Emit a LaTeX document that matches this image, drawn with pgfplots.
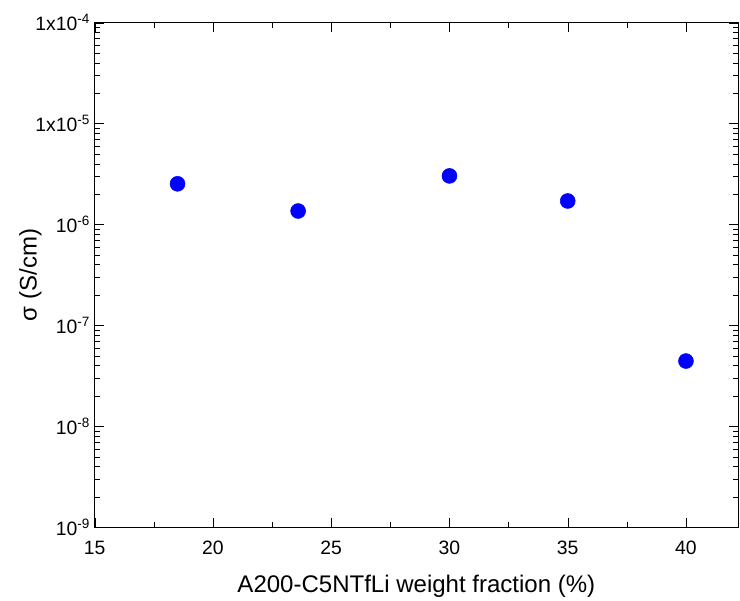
\documentclass[border=0pt]{standalone}
\usepackage{fontspec}
\setmainfont{Liberation Sans}
\usepackage{pgfplots}
\pgfplotsset{compat=1.18}
\pgfkeys{/pgf/number format/assume math mode=true}
\definecolor{dotblue}{RGB}{0,0,255}
\begin{document}
\begin{tikzpicture}[line width=0.9pt]
\begin{axis}[
  scale only axis, width=482pt, height=378pt,
  xmin=15, xmax=42.2, ymode=log, ymin=1e-9, ymax=1e-4,
  tick align=inside,
  major tick length=7pt,
  minor tick length=3.8pt,
  tick style={black},
  tick label style={font=\fontsize{14.5}{17}\selectfont},
  label style={font=\fontsize{18}{21}\selectfont},
  xtick={15,20,25,30,35,40}, minor xtick={17.5,22.5,27.5,32.5,37.5},
  ytick={1e-9,1e-8,1e-7,1e-6,1e-5,1e-4},
  minor ytick={2e-9,3e-9,4e-9,5e-9,6e-9,7e-9,8e-9,9e-9,
               2e-8,3e-8,4e-8,5e-8,6e-8,7e-8,8e-8,9e-8,
               2e-7,3e-7,4e-7,5e-7,6e-7,7e-7,8e-7,9e-7,
               2e-6,3e-6,4e-6,5e-6,6e-6,7e-6,8e-6,9e-6,
               2e-5,3e-5,4e-5,5e-5,6e-5,7e-5,8e-5,9e-5},
  yticklabels={10\textsuperscript{-9},10\textsuperscript{-8},10\textsuperscript{-7},10\textsuperscript{-6},1x10\textsuperscript{-5},1x10\textsuperscript{-4}},
  xlabel={A200-C5NTfLi weight fraction (\%)},
  ylabel={σ (S/cm)},
  xticklabel style={yshift=-7pt},
  xlabel style={yshift=-8.5pt},
  ylabel style={yshift=-11.5pt},
]
\addplot[only marks, mark=*, mark size=5.6pt, mark options={fill=dotblue, draw=dotblue}]
coordinates {
(18.5,2.53e-6)
(23.6,1.36e-6)
(30,3.03e-6)
(35,1.71e-6)
(40,4.43e-8)
};
\end{axis}
\pgfresetboundingbox
\path (current axis.south west) ++(-71pt,-55pt) rectangle ([shift={(1.5pt,17pt)}]current axis.north east);
\end{tikzpicture}
\end{document}
